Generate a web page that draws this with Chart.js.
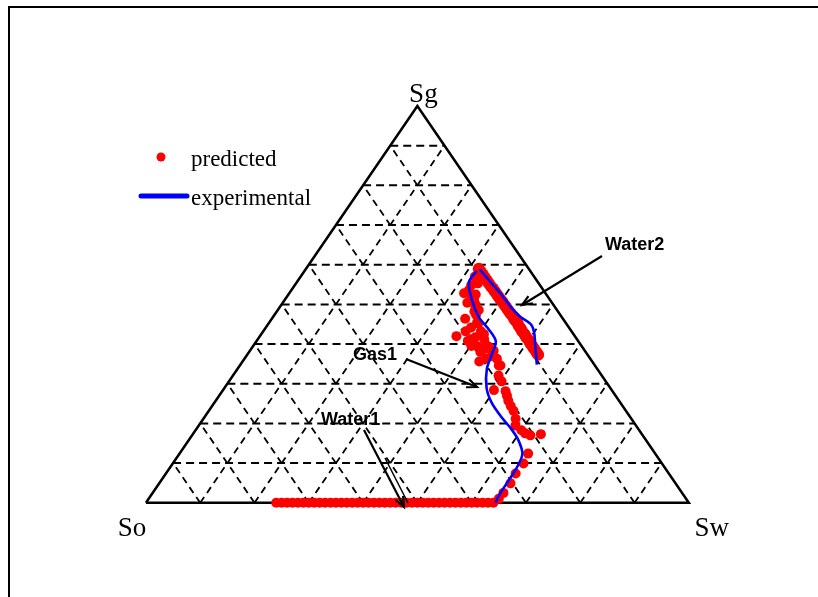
<!DOCTYPE html>
<html>
<head>
<meta charset="utf-8">
<script src="https://cdn.jsdelivr.net/npm/chart.js@4/dist/chart.umd.min.js"></script>
<style>
  html, body { margin: 0; padding: 0; background: #fff; }
  canvas { display: block; }
</style>
</head>
<body>
<canvas id="ternary" width="818" height="597"></canvas>
<script>
// --- ternary data (Sw, Sg fractions; So = 1 - Sw - Sg) ---

const GRID_LEVELS = [0.1, 0.2, 0.3, 0.4, 0.5, 0.6, 0.7, 0.8, 0.9];
const VERTEX_LABELS = ["So", "Sw", "Sg"];

// predicted, water1 flood along the So-Sw edge
const water1Sw = [0.24, 0.25, 0.26, 0.27, 0.28, 0.29, 0.30, 0.31, 0.32, 0.33, 0.34, 0.35, 0.36,
                  0.37, 0.38, 0.39, 0.40, 0.41, 0.42, 0.43, 0.44, 0.45, 0.46, 0.47, 0.48, 0.49,
                  0.50, 0.51, 0.52, 0.53, 0.54, 0.55, 0.56, 0.57, 0.58, 0.59, 0.60, 0.61, 0.62,
                  0.63, 0.64];
const water1Sg = water1Sw.map(() => 0);

// predicted, gas1 injection
const gas1Sw = [0.645, 0.646, 0.647, 0.644, 0.646, 0.642, 0.641, 0.623, 0.611, 0.600, 0.583,
                0.575, 0.561, 0.550, 0.539, 0.530, 0.522, 0.502, 0.499, 0.489, 0.477, 0.465,
                0.452, 0.436, 0.432, 0.412, 0.393, 0.401, 0.383, 0.370, 0.340, 0.322, 0.325,
                0.321, 0.335, 0.340, 0.358, 0.364, 0.356, 0.373, 0.362, 0.389, 0.402, 0.426,
                0.445, 0.480, 0.321, 0.327, 0.349, 0.371, 0.378, 0.398, 0.417, 0.435, 0.449,
                0.330, 0.345, 0.362, 0.386, 0.410, 0.425];
const gas1Sg = [0.010, 0.025, 0.049, 0.074, 0.099, 0.124, 0.173, 0.170, 0.175, 0.183, 0.195,
                0.212, 0.232, 0.244, 0.257, 0.270, 0.281, 0.306, 0.284, 0.321, 0.346, 0.363,
                0.370, 0.356, 0.388, 0.395, 0.412, 0.432, 0.454, 0.486, 0.504, 0.528, 0.548,
                0.585, 0.553, 0.519, 0.499, 0.482, 0.464, 0.432, 0.420, 0.408, 0.395, 0.380,
                0.363, 0.346, 0.570, 0.536, 0.511, 0.474, 0.442, 0.417, 0.412, 0.393, 0.383,
                0.565, 0.525, 0.490, 0.452, 0.425, 0.400];

// predicted, water2 flood
const water2Sw = [0.318, 0.326, 0.333, 0.341, 0.348, 0.355, 0.362, 0.369, 0.376, 0.383, 0.390,
                  0.397, 0.404, 0.412, 0.419, 0.426, 0.433, 0.441, 0.448, 0.456, 0.463, 0.470,
                  0.477, 0.485, 0.492, 0.500, 0.507, 0.514, 0.521, 0.529, 0.536];
const water2Sg = [0.590, 0.582, 0.575, 0.567, 0.560, 0.553, 0.546, 0.540, 0.533, 0.526, 0.519,
                  0.512, 0.506, 0.498, 0.491, 0.484, 0.477, 0.470, 0.462, 0.455, 0.447, 0.440,
                  0.432, 0.425, 0.417, 0.410, 0.402, 0.395, 0.388, 0.380, 0.373];

// experimental paths
const expGasSw = [0.317, 0.317, 0.345, 0.380, 0.413, 0.441, 0.450, 0.459, 0.483, 0.511, 0.548,
                  0.581, 0.607, 0.632, 0.639, 0.640, 0.641, 0.644];
const expGasSg = [0.585, 0.556, 0.511, 0.467, 0.437, 0.407, 0.375, 0.338, 0.289, 0.252, 0.215,
                  0.185, 0.158, 0.123, 0.086, 0.049, 0.017, 0.000];
const expWater2Sw = [0.321, 0.357, 0.389, 0.428, 0.455, 0.485, 0.500, 0.517, 0.532, 0.546];
const expWater2Sg = [0.588, 0.556, 0.528, 0.491, 0.469, 0.449, 0.430, 0.400, 0.373, 0.348];

// --- layout ---
const W = 818, H = 597;
const LEFT_PX = 142, RIGHT_PX = 693, BASE_PX = 507, TOP_PX = 102;

function tern(sw, sg) {
    return { x: sw + sg / 2, y: sg };
}

function zip(sw, sg) {
    return sw.map((v, i) => tern(v, sg[i]));
}

function lineSet(points, color, width, dash, order) {
    return {
        data: points,
        showLine: true,
        borderColor: color,
        borderWidth: width,
        borderDash: dash || [],
        pointRadius: 0,
        fill: false,
        order: order
    };
}

function dotSet(points, r) {
    return {
        data: points,
        showLine: false,
        pointRadius: r,
        pointBackgroundColor: '#ff0000',
        pointBorderWidth: 0,
        order: 2
    };
}

const datasets = [];

GRID_LEVELS.forEach(k => {
    datasets.push(lineSet([tern(0, k), tern(1 - k, k)], '#000', 2, [8, 5], 6));
    datasets.push(lineSet([tern(k, 0), tern(k, 1 - k)], '#000', 1.8, [7, 5], 6));
    datasets.push(lineSet([tern(1 - k, 0), tern(0, 1 - k)], '#000', 1.8, [7, 5], 6));
});

datasets.push(lineSet([tern(0, 0), tern(1, 0), tern(0, 1), tern(0, 0)], '#000', 2.5, [], 5));

datasets.push(dotSet(zip(water1Sw, water1Sg), 5));
datasets.push(dotSet(zip(gas1Sw, gas1Sg), 5));
datasets.push(dotSet(zip(water2Sw, water2Sg), 6));

const expGas = lineSet(zip(expGasSw, expGasSg), '#0000ff', 2.6, [], 1);
expGas.tension = 0.3;
const expWater2 = lineSet(zip(expWater2Sw, expWater2Sg), '#0000ff', 2.6, [], 1);
expWater2.tension = 0.3;
datasets.push(expGas, expWater2);

// annotation arrows, pixel coords [tailX, tailY, headX, headY]
const annotations = [
    { text: "Water2", x: 605, y: 245, arrow: [602, 256, 522, 305] },
    { text: "Gas1", x: 353, y: 355, arrow: [406, 359, 477, 387] },
    { text: "Water1", x: 321, y: 420, arrow: [364, 430, 404, 507] }
];

function drawArrow(ctx, x1, y1, x2, y2) {
    const a = Math.atan2(y2 - y1, x2 - x1);
    const len = 11, spread = 0.4;
    ctx.beginPath();
    ctx.moveTo(x1, y1);
    ctx.lineTo(x2, y2);
    ctx.stroke();
    ctx.beginPath();
    ctx.moveTo(x2 - len * Math.cos(a - spread), y2 - len * Math.sin(a - spread));
    ctx.lineTo(x2, y2);
    ctx.lineTo(x2 - len * Math.cos(a + spread), y2 - len * Math.sin(a + spread));
    ctx.stroke();
}

const decorations = {
    id: 'decorations',
    afterDraw(chart) {
        const ctx = chart.ctx;
        const xs = chart.scales.x, ys = chart.scales.y;
        const px = p => [xs.getPixelForValue(p.x), ys.getPixelForValue(p.y)];
        ctx.save();

        // frame (top + left only, as in the cropped figure)
        ctx.strokeStyle = '#000';
        ctx.lineWidth = 2;
        ctx.beginPath();
        ctx.moveTo(9, H);
        ctx.lineTo(9, 7);
        ctx.lineTo(W, 7);
        ctx.stroke();

        // vertex labels
        ctx.fillStyle = '#000';
        ctx.font = '27px "Liberation Serif", "Times New Roman", serif';
        ctx.textBaseline = 'alphabetic';
        const [soX, soY] = px(tern(0, 0));
        const [swX, swY] = px(tern(1, 0));
        const [sgX, sgY] = px(tern(0, 1));
        ctx.textAlign = 'center';
        ctx.fillText(VERTEX_LABELS[0], soX - 14, soY + 33);
        ctx.fillText(VERTEX_LABELS[1], swX + 23, swY + 33);
        ctx.fillText(VERTEX_LABELS[2], sgX + 6, sgY - 4);

        // legend
        ctx.textAlign = 'left';
        ctx.font = '23px "Liberation Serif", "Times New Roman", serif';
        ctx.fillStyle = '#ff0000';
        ctx.beginPath();
        ctx.arc(161, 157, 4.5, 0, Math.PI * 2);
        ctx.fill();
        ctx.fillStyle = '#000';
        ctx.fillText('predicted', 191, 166);
        ctx.strokeStyle = '#0000ff';
        ctx.lineWidth = 5;
        ctx.lineCap = 'round';
        ctx.beginPath();
        ctx.moveTo(141, 196);
        ctx.lineTo(187, 196);
        ctx.stroke();
        ctx.lineCap = 'butt';
        ctx.fillText('experimental', 191, 205);

        // annotations
        ctx.font = 'bold 18px "Liberation Sans", Arial, sans-serif';
        ctx.textBaseline = 'middle';
        ctx.strokeStyle = '#000';
        ctx.lineWidth = 2.2;
        annotations.forEach(a => {
            ctx.fillText(a.text, a.x, a.y);
            const [x1, y1, x2, y2] = a.arrow;
            drawArrow(ctx, x1, y1, x2, y2);
        });
        // doubled shaft on the Water1 arrow
        ctx.lineWidth = 1.5;
        ctx.beginPath();
        ctx.moveTo(385, 458);
        ctx.lineTo(408, 503);
        ctx.stroke();

        ctx.restore();
    }
};

const xSpan = RIGHT_PX - LEFT_PX, ySpan = BASE_PX - TOP_PX;

new Chart(document.getElementById('ternary'), {
    type: 'scatter',
    data: { datasets: datasets },
    options: {
        responsive: false,
        animation: false,
        layout: { padding: 0 },
        plugins: {
            legend: { display: false },
            tooltip: { enabled: false }
        },
        scales: {
            x: { type: 'linear', display: false, min: -LEFT_PX / xSpan, max: (W - LEFT_PX) / xSpan },
            y: { type: 'linear', display: false, min: (BASE_PX - H) / ySpan, max: BASE_PX / ySpan }
        }
    },
    plugins: [decorations]
});
</script>
</body>
</html>
